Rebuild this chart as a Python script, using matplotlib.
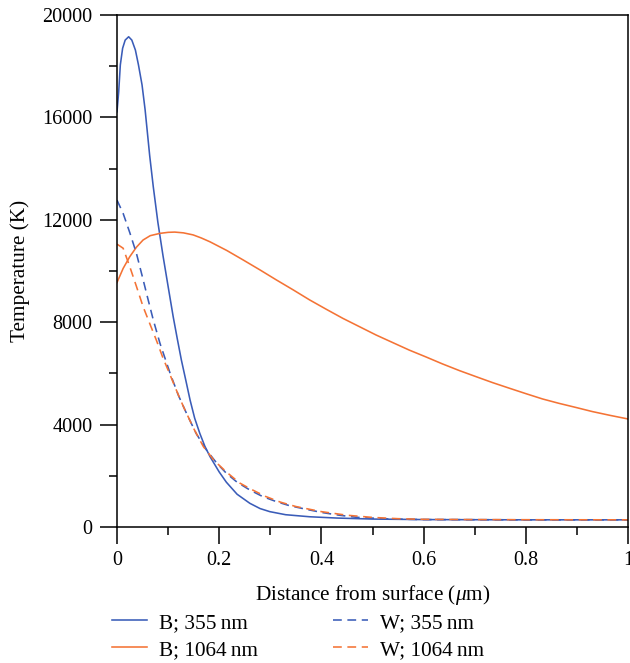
import matplotlib
matplotlib.use("Agg")
import matplotlib.pyplot as plt
from matplotlib.ticker import MultipleLocator

plt.rcParams['font.family'] = ['Liberation Serif', 'DejaVu Serif']
plt.rcParams['mathtext.fontset'] = 'custom'
plt.rcParams['mathtext.it'] = 'Liberation Serif:italic'
plt.rcParams['mathtext.rm'] = 'Liberation Serif'

# ---- data ----
x_b355 = [0, 0.0033, 0.0065, 0.011, 0.016, 0.0228, 0.029, 0.036, 0.042, 0.049, 0.055, 0.064,
          0.071, 0.08, 0.09, 0.1, 0.11, 0.118, 0.126, 0.135, 0.143, 0.152, 0.162, 0.172, 0.182,
          0.2, 0.214, 0.235, 0.26, 0.28, 0.299, 0.33, 0.377, 0.43, 0.5, 0.6, 0.8, 1.0]
y_b355 = [16220, 17000, 18050, 18700, 19020, 19150, 19020, 18630, 18050, 17270, 16300, 14500,
          13290, 11900, 10600, 9400, 8210, 7350, 6520, 5700, 4960, 4250, 3660, 3150, 2750,
          2150, 1750, 1280, 925, 720, 600, 480, 400, 350, 310, 290, 280, 280]

x_b1064 = [0, 0.012, 0.025, 0.038, 0.051, 0.065, 0.084, 0.1, 0.113, 0.13, 0.149, 0.165, 0.182,
           0.215, 0.247, 0.28, 0.312, 0.345, 0.377, 0.41, 0.442, 0.475, 0.507, 0.54, 0.572,
           0.605, 0.637, 0.67, 0.703, 0.735, 0.768, 0.8, 0.833, 0.865, 0.898, 0.93, 0.965, 1.0]
y_b1064 = [9550, 10100, 10560, 10930, 11210, 11380, 11470, 11510, 11520, 11490, 11410, 11290, 11140,
           10800, 10430, 10040, 9650, 9260, 8870, 8500, 8150, 7820, 7500, 7200, 6910,
           6640, 6370, 6110, 5870, 5640, 5420, 5210, 5000, 4830, 4670, 4510, 4360, 4220]

x_w355 = [0, 0.012, 0.025, 0.038, 0.05, 0.061, 0.071, 0.084, 0.104, 0.12, 0.136, 0.155, 0.175,
          0.195, 0.214, 0.235, 0.26, 0.285, 0.312, 0.338, 0.377, 0.403, 0.435, 0.468, 0.533,
          0.6, 0.7, 0.8, 1.0]
y_w355 = [12770, 12250, 11500, 10690, 9750, 8870, 8090, 7180, 6000, 5150, 4440, 3650, 3010,
          2500, 2100, 1750, 1445, 1190, 990, 830, 664, 560, 460, 380, 313,
          290, 285, 280, 280]

x_w1064 = [0, 0.012, 0.025, 0.038, 0.051, 0.065, 0.077, 0.09, 0.1, 0.115, 0.13, 0.15, 0.169,
           0.19, 0.214, 0.24, 0.26, 0.29, 0.32, 0.35, 0.4, 0.45, 0.5, 0.55, 0.6, 0.7, 0.8, 1.0]
y_w1064 = [11050, 10890, 10170, 9400, 8610, 7900, 7300, 6600, 6130, 5400, 4700, 3850, 3140,
           2600, 2150, 1720, 1500, 1200, 970, 800, 600, 460, 375, 325, 300, 290, 285, 280]

x_ticks = [0, 0.2, 0.4, 0.6, 0.8, 1.0]
x_ticklabels = ["0", "0.2", "0.4", "0.6", "0.8", "1"]
labels = ["B; 355\u2009nm", "B; 1064\u2009nm", "W; 355\u2009nm", "W; 1064\u2009nm"]
blue = "#3a5cb8"
orange = "#f47335"

fig = plt.figure(figsize=(6.30, 6.63), dpi=100)
ax = fig.add_axes([117/630, 1-527/663, 511/630, 512/663])

lw = 1.15
h1, = ax.plot(x_b355, y_b355, color=blue, lw=lw, label=labels[0])
h2, = ax.plot(x_b1064, y_b1064, color=orange, lw=lw, label=labels[1])
h3, = ax.plot(x_w355, y_w355, color=blue, lw=lw, ls=(0, (5.5, 3.5)), label=labels[2])
h4, = ax.plot(x_w1064, y_w1064, color=orange, lw=lw, ls=(0, (5.5, 3.5)), label=labels[3])

ax.set_xlim(0, 1)
ax.set_ylim(0, 20000)
ax.set_xticks(x_ticks)
ax.set_xticklabels(x_ticklabels)
ax.xaxis.set_minor_locator(MultipleLocator(0.1))
ax.yaxis.set_major_locator(MultipleLocator(4000))
ax.yaxis.set_minor_locator(MultipleLocator(2000))

for s in ax.spines.values():
    s.set_linewidth(1.1)
ax.tick_params(which='major', direction='out', length=12.5, width=1.1, labelsize=14.5, pad=5)
ax.tick_params(which='minor', direction='out', length=6, width=1.1)

ax.set_xlabel("Distance from surface ($\\mu$m)", fontsize=15.3, labelpad=9)
ax.set_ylabel("Temperature (K)", fontsize=15.3, labelpad=9)

fig.legend(handles=[h1, h2, h3, h4], ncol=2, frameon=False, fontsize=15.3,
           loc='upper left', bbox_to_anchor=(112/630, 1-613/663),
           handlelength=1.65, handletextpad=0.55, columnspacing=3.55,
           labelspacing=0.33, borderpad=0, borderaxespad=0)

fig.savefig("out.png", dpi=100)
